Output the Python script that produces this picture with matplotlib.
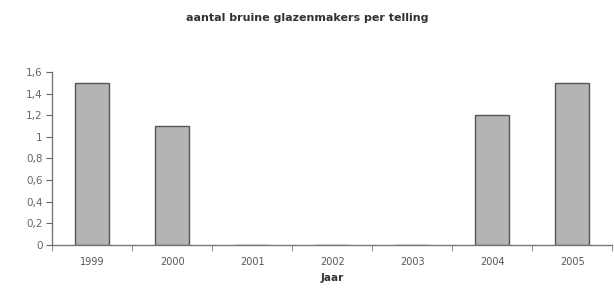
import matplotlib.pyplot as plt
import numpy as np

years = ['1999', '2000', '2001', '2002', '2003', '2004', '2005']
counts = [1.5, 1.1, 0, 0, 0, 1.2, 1.5]
yticks = [0, 0.2, 0.4, 0.6, 0.8, 1.0, 1.2, 1.4, 1.6]
ylabels = ['0', '0,2', '0,4', '0,6', '0,8', '1', '1,2', '1,4', '1,6']

fig = plt.figure(figsize=(6.14, 3.02), dpi=100)
ax = fig.add_axes([0.085, 0.189, 0.912, 0.573])

x = np.arange(len(years))
ax.bar(x, counts, width=0.42, color='#b4b4b4', edgecolor='#555555', linewidth=1.0)

ax.set_xlim(-0.5, len(years) - 0.5)
ax.set_ylim(0, 1.6)
ax.set_yticks(yticks)
ax.set_yticklabels(ylabels)
ax.set_xticks(x)
ax.set_xticklabels(years)
ax.tick_params(axis='x', length=0, labelsize=7, colors='#555555', pad=9)
ax.set_xticks(np.arange(len(years) + 1) - 0.5, minor=True)
ax.tick_params(axis='x', which='minor', length=4, color='#777777', direction='out')
ax.tick_params(axis='y', length=4, labelsize=7.5, colors='#666666', direction='out', pad=3)

for s in ['top', 'right']:
    ax.spines[s].set_visible(False)
for s in ['left', 'bottom']:
    ax.spines[s].set_color('#777777')
    ax.spines[s].set_linewidth(1.0)

ax.set_xlabel('Jaar', fontsize=7.5, fontweight='bold', color='#333333', labelpad=4)
fig.text(0.5, 0.94, 'aantal bruine glazenmakers per telling', ha='center', va='center',
         fontsize=8, fontweight='bold', color='#333333')

plt.savefig('out.png', dpi=100)
